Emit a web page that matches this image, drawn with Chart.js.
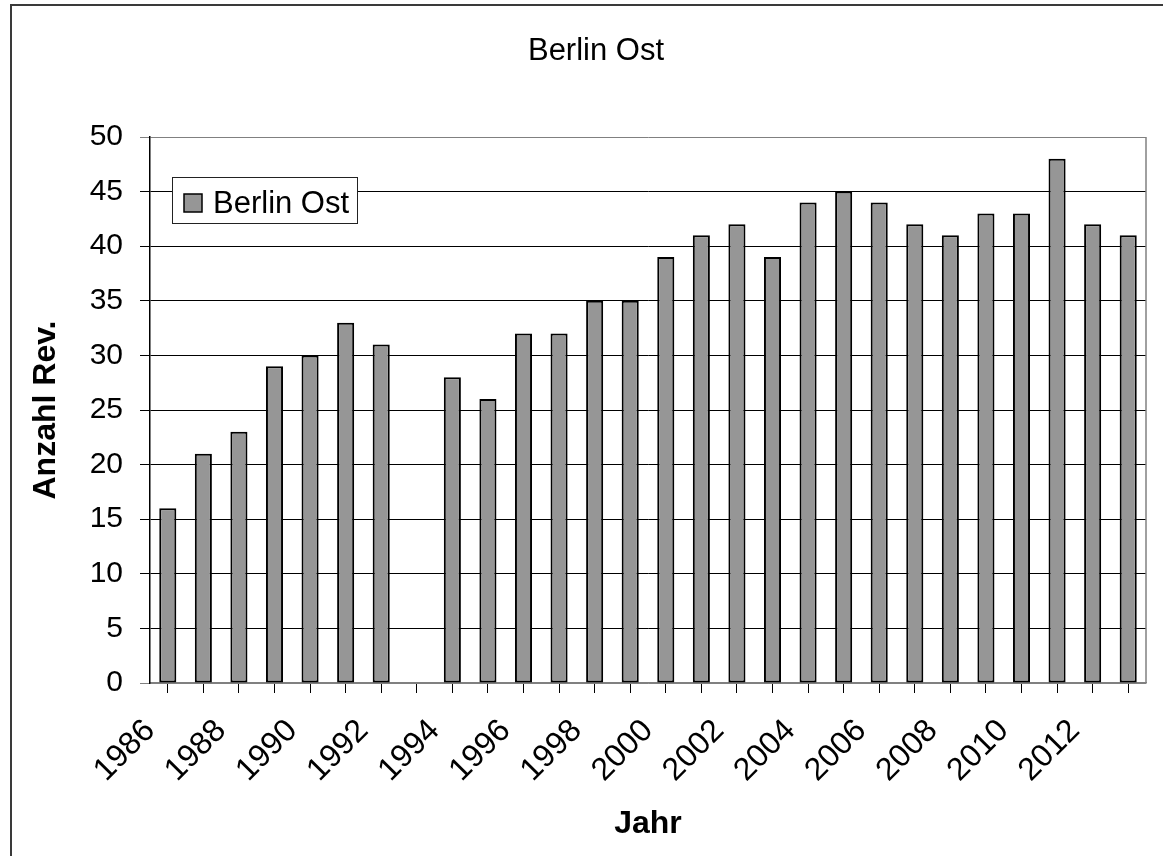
<!DOCTYPE html>
<html>
<head>
<meta charset="utf-8">
<script src="https://cdn.jsdelivr.net/npm/chart.js@4/dist/chart.umd.min.js"></script>
<style>
  html, body { margin: 0; padding: 0; background: #fff; overflow: hidden; }
  canvas { display: block; }
</style>
</head>
<body>
<canvas id="chart" width="1163" height="856"></canvas>
<script>
// --- Daten ---
const chartTitle = 'Berlin Ost';
const seriesName = 'Berlin Ost';
const years = ['1986', '1987', '1988', '1989', '1990', '1991', '1992', '1993', '1994', '1995',
               '1996', '1997', '1998', '1999', '2000', '2001', '2002', '2003', '2004', '2005',
               '2006', '2007', '2008', '2009', '2010', '2011', '2012', '2013'];
const counts = [16, 21, 23, 29, 30, 33, 31, null, 28, 26,
                32, 32, 35, 35, 39, 41, 42, 39, 44, 45,
                44, 42, 41, 43, 43, 48, 42, 41];
// Beschriftung an den Kategoriegrenzen (wie im Excel-Original)
const tickLabels = ['1986', '', '1988', '', '1990', '', '1992', '', '1994', '', '1996', '', '1998', '',
                    '2000', '', '2002', '', '2004', '', '2006', '', '2008', '', '2010', '', '2012', '', ''];
const yTicks = [0, 5, 10, 15, 20, 25, 30, 35, 40, 45, 50];

const FONT = '"Liberation Sans", Arial, sans-serif';
const BAR_COLOR = '#969696';

// Rahmen, Titel, Legende
const decorations = {
    id: 'decorations',
    afterDraw(chart) {
        const { ctx, chartArea } = chart;
        ctx.save();

        // äußerer Rahmen
        ctx.strokeStyle = '#3a3a3a';
        ctx.lineWidth = 2;
        ctx.beginPath();
        ctx.moveTo(11, 856);
        ctx.lineTo(11, 5);
        ctx.lineTo(1163, 5);
        ctx.stroke();

        // rechter Rand der Zeichnungsfläche
        ctx.strokeStyle = '#808080';
        ctx.lineWidth = 1.5;
        ctx.beginPath();
        ctx.moveTo(chartArea.right, chartArea.top);
        ctx.lineTo(chartArea.right, chartArea.bottom);
        ctx.stroke();

        // Titel
        ctx.fillStyle = '#000';
        ctx.font = '31px ' + FONT;
        ctx.textAlign = 'center';
        ctx.textBaseline = 'alphabetic';
        ctx.fillText(chartTitle, 596, 60);

        // Legende
        ctx.fillStyle = '#fff';
        ctx.fillRect(172, 177, 186, 47);
        ctx.strokeStyle = '#222';
        ctx.lineWidth = 1;
        ctx.strokeRect(172.5, 177.5, 185, 46);
        ctx.fillStyle = BAR_COLOR;
        ctx.fillRect(184, 194, 18, 18);
        ctx.strokeStyle = '#000';
        ctx.lineWidth = 1.5;
        ctx.strokeRect(184, 194, 18, 18);
        ctx.fillStyle = '#000';
        ctx.textAlign = 'left';
        ctx.fillText(chart.data.datasets[0].label, 213, 213);

        ctx.restore();
    }
};

const edgeColor = ctx => (ctx.tick && (ctx.tick.value === 0 || ctx.tick.value === 50)) ? '#808080' : '#000';

new Chart(document.getElementById('chart').getContext('2d'), {
    type: 'bar',
    data: {
        labels: years,
        datasets: [{
            label: seriesName,
            data: counts,
            backgroundColor: BAR_COLOR,
            borderColor: '#000',
            borderWidth: 2,
            borderSkipped: false,
            categoryPercentage: 1.0,
            barPercentage: 0.48
        }]
    },
    options: {
        responsive: false,
        animation: false,
        layout: { padding: { top: 137, right: 17, bottom: 0, left: 0 } },
        plugins: {
            legend: { display: false },
            title: { display: false },
            tooltip: { enabled: false }
        },
        scales: {
            x: {
                display: false,
                offset: true
            },
            xTicks: {
                type: 'category',
                position: 'bottom',
                labels: tickLabels,
                offset: false,
                grid: {
                    drawOnChartArea: false,
                    color: '#000',
                    tickLength: 10,
                    lineWidth: 1
                },
                border: { display: true, color: '#808080', width: 1.5 },
                ticks: {
                    autoSkip: false,
                    minRotation: 45,
                    maxRotation: 45,
                    padding: 19,
                    color: '#000',
                    font: { family: FONT, size: 32 }
                },
                title: {
                    display: true,
                    text: 'Jahr',
                    color: '#000',
                    font: { family: FONT, size: 32, weight: 'bold' },
                    padding: { top: 0, bottom: 13 }
                },
                afterFit(scale) {
                    scale.height = 173;
                    scale.paddingLeft = 0;
                    scale.paddingRight = 0;
                }
            },
            y: {
                min: 0,
                max: 50,
                afterBuildTicks(scale) { scale.ticks = yTicks.map(v => ({ value: v })); },
                grid: {
                    color: edgeColor,
                    tickLength: 10,
                    lineWidth: 1
                },
                border: { display: true, color: '#000', width: 1.5 },
                ticks: {
                    padding: 17,
                    color: '#000',
                    font: { family: FONT, size: 30 }
                },
                title: {
                    display: true,
                    text: 'Anzahl Rev.',
                    color: '#000',
                    font: { family: FONT, size: 32, weight: 'bold' },
                    padding: { top: 27, bottom: 0 }
                },
                afterFit(scale) {
                    scale.width = 150;
                    scale.paddingTop = 0;
                    scale.paddingBottom = 0;
                }
            }
        }
    },
    plugins: [decorations]
});
</script>
</body>
</html>
